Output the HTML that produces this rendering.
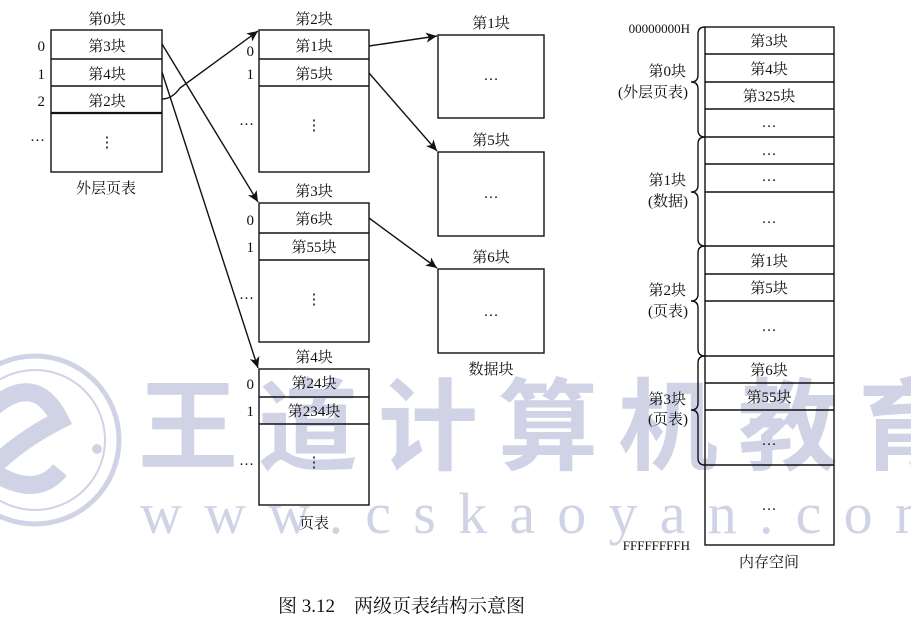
<!DOCTYPE html>
<html><head><meta charset="utf-8"><style>
html,body{margin:0;padding:0;background:#fff;}
svg{display:block;}
text{font-family:"Liberation Serif","Noto Serif CJK SC",serif;fill:#111;}
</style></head><body>
<svg width="911" height="627" viewBox="0 0 911 627" xmlns="http://www.w3.org/2000/svg">
<defs>
<marker id="a" markerWidth="12" markerHeight="10" refX="11" refY="5" orient="auto" markerUnits="userSpaceOnUse">
<path d="M0,0 L11,5 L0,10 L3,5 z" fill="#111"/>
</marker>
</defs>
<!-- watermark -->
<g fill="#d0d3e6">
<circle cx="35" cy="440" r="84" fill="none" stroke="#d0d3e6" stroke-width="5"/>
<circle cx="35" cy="440" r="70" fill="none" stroke="#d0d3e6" stroke-width="2"/>
<path d="M-10,410 Q35,370 60,420 Q20,440 -10,470 Q35,500 60,470" fill="none" stroke="#d0d3e6" stroke-width="18"/>
<circle cx="97" cy="449" r="5"/>
<text x="138" y="462" style="font-family:'Noto Sans CJK SC',sans-serif;font-weight:bold;fill:#d0d3e6" font-size="100" letter-spacing="20">王道计算机教育</text>
<text x="140" y="533" style="font-family:'Liberation Serif',serif;fill:#d0d3e6" font-size="58" textLength="800" lengthAdjust="spacing">www.cskaoyan.com</text>
</g>
<g stroke="#111" stroke-width="1.4" fill="none">
<rect x="51" y="30" width="111" height="142"/>
<line x1="51" y1="59" x2="162" y2="59"/><line x1="51" y1="86" x2="162" y2="86"/><line x1="51" y1="113" x2="162" y2="113" stroke-width="2.2"/>
<rect x="259" y="30" width="110" height="142"/>
<line x1="259" y1="59" x2="369" y2="59"/><line x1="259" y1="86" x2="369" y2="86"/>
<rect x="259" y="203" width="110" height="139"/>
<line x1="259" y1="233" x2="369" y2="233"/><line x1="259" y1="260" x2="369" y2="260"/>
<rect x="259" y="369" width="110" height="136"/>
<line x1="259" y1="397" x2="369" y2="397"/><line x1="259" y1="424" x2="369" y2="424"/>
<rect x="438" y="35" width="106" height="83"/>
<rect x="438" y="152" width="106" height="84"/>
<rect x="438" y="269" width="106" height="84"/>
<!-- memory column -->
<rect x="705" y="27" width="129" height="518"/>
<line x1="705" y1="54" x2="834" y2="54"/><line x1="705" y1="82" x2="834" y2="82"/><line x1="705" y1="109" x2="834" y2="109"/>
<line x1="705" y1="137" x2="834" y2="137"/><line x1="705" y1="164" x2="834" y2="164"/><line x1="705" y1="192" x2="834" y2="192"/>
<line x1="705" y1="246" x2="834" y2="246"/><line x1="705" y1="274" x2="834" y2="274"/><line x1="705" y1="301" x2="834" y2="301"/>
<line x1="705" y1="356" x2="834" y2="356"/><line x1="705" y1="383" x2="834" y2="383"/><line x1="705" y1="410" x2="834" y2="410"/>
<line x1="705" y1="465" x2="834" y2="465"/>
<!-- braces -->
<path d="M705,27 Q698,27 698,34 L698,75 Q698,82 691,82 Q698,82 698,89 L698,130 Q698,137 705,137"/>
<path d="M705,137 Q698,137 698,144 L698,185 Q698,192 691,192 Q698,192 698,199 L698,239 Q698,246 705,246"/>
<path d="M705,246 Q698,246 698,253 L698,294 Q698,301 691,301 Q698,301 698,308 L698,349 Q698,356 705,356"/>
<path d="M705,356 Q698,356 698,363 L698,403 Q698,410 691,410 Q698,410 698,417 L698,458 Q698,465 705,465"/>
<line x1="162" y1="44" x2="258" y2="202" marker-end="url(#a)"/>
<line x1="162" y1="72" x2="258" y2="368" marker-end="url(#a)"/>
<path d="M162,99 Q172,99 180,88 L258,31" marker-end="url(#a)"/>
<line x1="369" y1="46" x2="437" y2="36" marker-end="url(#a)"/>
<line x1="369" y1="73" x2="437" y2="151" marker-end="url(#a)"/>
<line x1="369" y1="218" x2="437" y2="268" marker-end="url(#a)"/>
</g>
<g font-size="15" text-anchor="middle">
<text x="107" y="24">第0块</text>
<text x="107" y="51">第3块</text><text x="107" y="79">第4块</text><text x="107" y="106">第2块</text>
<text x="107" y="147">⋮</text>
<text x="106" y="193">外层页表</text>
<text x="314" y="24">第2块</text>
<text x="314" y="51">第1块</text><text x="314" y="79">第5块</text><text x="314" y="130">⋮</text>
<text x="314" y="196">第3块</text>
<text x="314" y="224">第6块</text><text x="314" y="252">第55块</text><text x="314" y="304">⋮</text>
<text x="314" y="362">第4块</text>
<text x="314" y="388">第24块</text><text x="314" y="416">第234块</text><text x="314" y="467">⋮</text>
<text x="314" y="528">页表</text>
<text x="491" y="28">第1块</text><text x="491" y="80">…</text>
<text x="491" y="145">第5块</text><text x="491" y="198">…</text>
<text x="491" y="262">第6块</text><text x="491" y="316">…</text>
<text x="491" y="374">数据块</text>
<text x="769" y="46">第3块</text><text x="769" y="74">第4块</text><text x="769" y="101">第325块</text>
<text x="769" y="127">…</text><text x="769" y="155">…</text><text x="769" y="181">…</text><text x="769" y="223">…</text>
<text x="769" y="266">第1块</text><text x="769" y="293">第5块</text><text x="769" y="331">…</text>
<text x="769" y="375">第6块</text><text x="769" y="402">第55块</text><text x="769" y="445">…</text>
<text x="769" y="510">…</text>
<text x="769" y="567">内存空间</text>
</g>
<g font-size="15" text-anchor="end">
<text x="45" y="51">0</text><text x="45" y="79">1</text><text x="45" y="106">2</text><text x="45" y="141">…</text>
<text x="254" y="56">0</text><text x="254" y="79">1</text><text x="254" y="125">…</text>
<text x="254" y="225">0</text><text x="254" y="252">1</text><text x="254" y="299">…</text>
<text x="254" y="389">0</text><text x="254" y="416">1</text><text x="254" y="465">…</text>
<text x="690" y="33" font-size="13">00000000H</text>
<text x="686" y="76">第0块</text><text x="688" y="97">(外层页表)</text>
<text x="686" y="185">第1块</text><text x="688" y="206">(数据)</text>
<text x="686" y="295">第2块</text><text x="688" y="316">(页表)</text>
<text x="686" y="404">第3块</text><text x="688" y="424">(页表)</text>
<text x="690" y="550" font-size="13">FFFFFFFFH</text>
</g>
<text x="278" y="612" font-size="19">图 3.12　两级页表结构示意图</text>
</svg>
</body></html>
